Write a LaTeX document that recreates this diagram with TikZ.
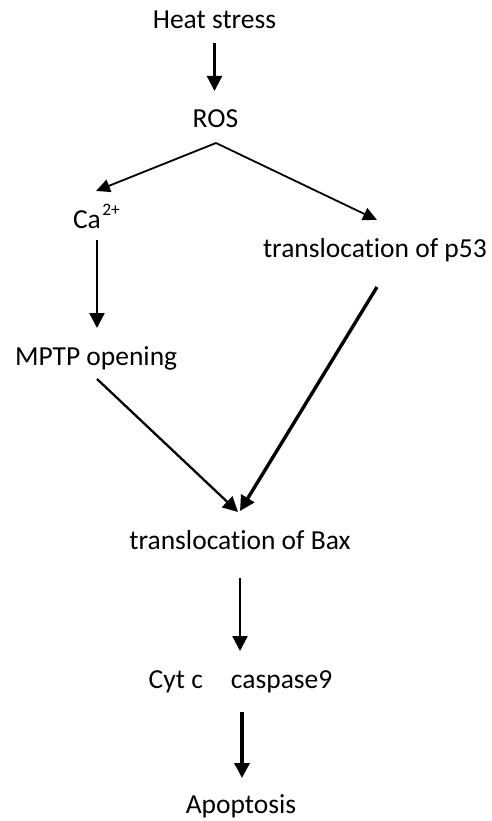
\documentclass[tikz,border=0pt]{standalone}
\usepackage{fontspec}
\setmainfont{Carlito}[RawFeature=-liga]
\usetikzlibrary{arrows.meta}
\begin{document}
\begin{tikzpicture}[x=1pt,y=-1pt,
  lbl/.style={inner sep=0pt,outer sep=0pt,font=\fontsize{27.5}{33}\selectfont},
  conn/.style={-{Triangle[length=15pt,width=15pt]},line width=2.3pt,black},
  connthin/.style={-{Triangle[length=14pt,width=13pt]},line width=1.8pt,black},
  connthick/.style={-{Triangle[length=15pt,width=15pt]},line width=3.4pt,black}]
\fill[white] (0,0) rectangle (491,821);
\useasboundingbox (0,0) rectangle (491,821);
% nodes
\node[lbl,anchor=base] (heat) at (214.5,29) {Heat stress};
\node[lbl,anchor=base] (ros) at (215.5,128) {ROS};
\node[lbl,anchor=base west] (ca) at (73,228) {Ca\kern1.5pt\raisebox{13pt}{\fontsize{17.5}{18}\selectfont 2+}};
\node[lbl,anchor=base west] (p53) at (263,257) {translocation of p53};
\node[lbl,anchor=base west] (mptp) at (15,365) {MPTP opening};
\node[lbl,anchor=base] (bax) at (240,549) {translocation of Bax};
\node[lbl,anchor=base] (cyt) at (240.5,688) {Cyt c\hspace{28pt}caspase9};
\node[lbl,anchor=base] (apop) at (241,813) {Apoptosis};
% connector ends
\coordinate (heat-o) at (214.5,43);
\coordinate (ros-i) at (214.5,91);
\coordinate (ros-o) at (216,143);
\coordinate (ca-i) at (96,191);
\coordinate (p53-i) at (377,220);
\coordinate (ca-o) at (97,240);
\coordinate (mptp-i) at (97,328);
\coordinate (p53-o) at (377,287);
\coordinate (mptp-o) at (97,379);
\coordinate (bax-i1) at (238,512);
\coordinate (bax-i2) at (240,511);
\coordinate (bax-o) at (240,578);
\coordinate (cyt-i) at (240,651);
\coordinate (cyt-o) at (242,712);
\coordinate (apop-i) at (242,778);
% connectors
\draw[conn] (heat-o) -- (ros-i);
\draw[connthin] (ros-o) -- (ca-i);
\draw[connthin] (ros-o) -- (p53-i);
\draw[conn] (ca-o) -- (mptp-i);
\draw[conn] (mptp-o) -- (bax-i1);
\draw[connthick] (p53-o) -- (bax-i2);
\draw[conn] (bax-o) -- (cyt-i);
\draw[connthick] (cyt-o) -- (apop-i);
\end{tikzpicture}
\end{document}
